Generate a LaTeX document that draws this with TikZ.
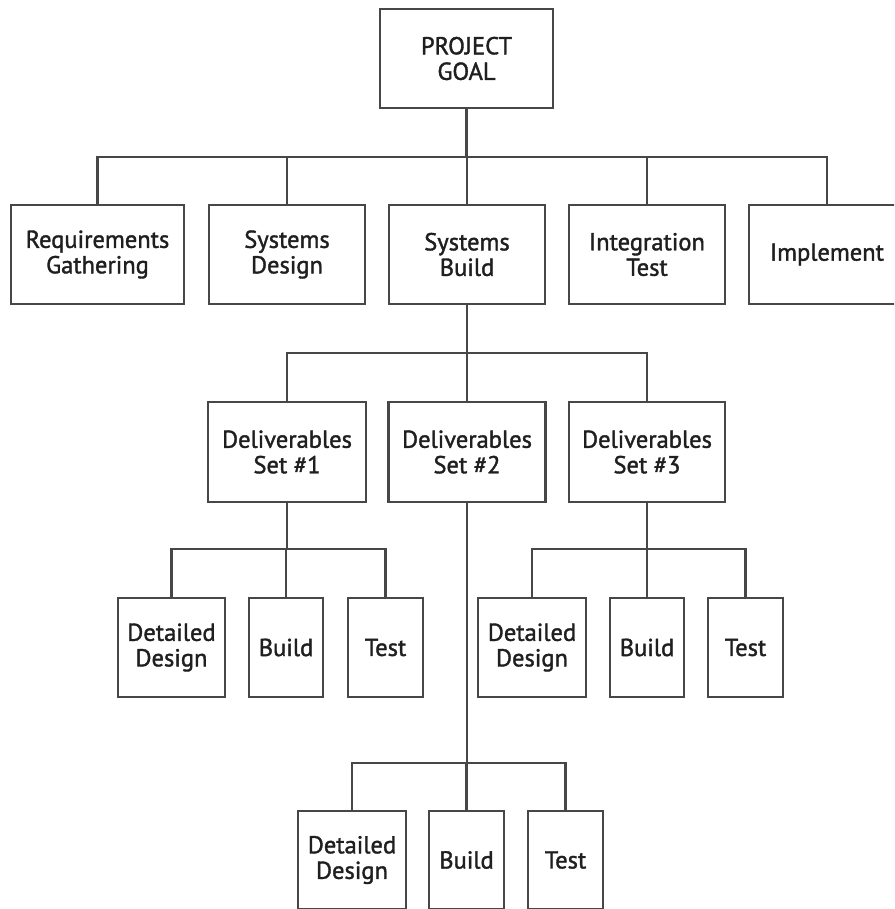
\documentclass[tikz,border=0pt]{standalone}
\usepackage{fontspec}
\newfontfamily\boxfont[FakeBold=1.5]{PT Sans}
\begin{document}
\begin{tikzpicture}[x=1pt,y=-1pt,
  box/.style={draw=black!72,line width=2.1pt,fill=white,inner sep=0pt,
    align=center,text=black!88,
    font=\boxfont\fontsize{24.5}{25.5}\selectfont},
  link/.style={draw=black!72,line width=2.1pt}]
\useasboundingbox (0,0) rectangle (894,909);
\clip (0,0) rectangle (894,909);

% root
\node[box,minimum width=173pt,minimum height=99pt] (goal) at (466.5,58.5) {PROJECT\\GOAL};

% phases
\node[box,minimum width=173pt,minimum height=99pt] (req)  at (97.5,254.5) {Requirements\\Gathering};
\node[box,minimum width=156pt,minimum height=99pt] (sd)   at (287,254.5)  {Systems\\Design};
\node[box,minimum width=156pt,minimum height=99pt] (sb)   at (467,254.5)  {Systems\\Build};
\node[box,minimum width=156pt,minimum height=99pt] (it)   at (647,254.5)  {Integration\\Test};
\node[box,minimum width=156pt,minimum height=99pt] (impl) at (827,254.5)  {Implement};

% deliverable sets
\node[box,minimum width=158pt,minimum height=100pt] (d1) at (287,452) {Deliverables\\Set \#1};
\node[box,minimum width=157pt,minimum height=100pt] (d2) at (467,452) {Deliverables\\Set \#2};
\node[box,minimum width=156pt,minimum height=100pt] (d3) at (647,452) {Deliverables\\Set \#3};

% tasks of set 1
\node[box,minimum width=107pt,minimum height=99pt] (dd1) at (171.5,647.5) {Detailed\\Design};
\node[box,minimum width=74pt,minimum height=99pt]  (bu1) at (286,647.5)   {Build};
\node[box,minimum width=75pt,minimum height=99pt]  (te1) at (385.5,647.5) {Test};

% tasks of set 3
\node[box,minimum width=108pt,minimum height=99pt] (dd3) at (532,647.5)   {Detailed\\Design};
\node[box,minimum width=74pt,minimum height=99pt]  (bu3) at (647,647.5)   {Build};
\node[box,minimum width=75pt,minimum height=99pt]  (te3) at (745.5,647.5) {Test};

% tasks of set 2
\node[box,minimum width=108pt,minimum height=98pt] (dd2) at (352,860)   {Detailed\\Design};
\node[box,minimum width=75pt,minimum height=98pt]  (bu2) at (466.5,860) {Build};
\node[box,minimum width=75pt,minimum height=98pt]  (te2) at (565.5,860) {Test};

% bus lines
\coordinate (bus0) at (466.5,157);
\coordinate (bus1) at (467,353);
\coordinate (bus2) at (287,549);
\coordinate (bus3) at (647,549);
\coordinate (bus4) at (467,763);

\draw[link] (goal.south) -- (bus0);
\draw[link] (req.north) |- (bus0) -| (impl.north);
\draw[link] (sd.north) -- (sd.north |- bus0);
\draw[link] (sb.north) -- (sb.north |- bus0);
\draw[link] (it.north) -- (it.north |- bus0);

\draw[link] (sb.south) -- (bus1);
\draw[link] (d1.north) |- (bus1) -| (d3.north);
\draw[link] (d2.north) -- (d2.north |- bus1);

\draw[link] (d1.south) -- (bus2);
\draw[link] (dd1.north) |- (bus2) -| (te1.north);
\draw[link] (bu1.north) -- (bu1.north |- bus2);

\draw[link] (d3.south) -- (bus3);
\draw[link] (dd3.north) |- (bus3) -| (te3.north);
\draw[link] (bu3.north) -- (bu3.north |- bus3);

\draw[link] (d2.south) -- (bus4);
\draw[link] (dd2.north) |- (bus4) -| (te2.north);
\draw[link] (bu2.north) -- (bu2.north |- bus4);
\end{tikzpicture}
\end{document}
